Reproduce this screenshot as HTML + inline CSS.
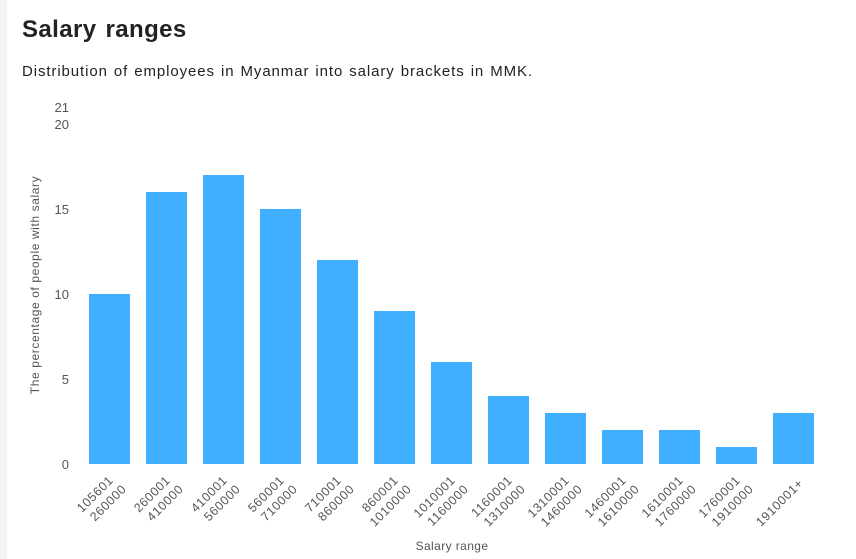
<!DOCTYPE html>
<html><head><meta charset="utf-8"><style>
body{margin:0;background:#fff;}
svg{display:block;font-family:"Liberation Sans",sans-serif;}
</style></head><body>
<svg width="856" height="559" viewBox="0 0 856 559" xmlns="http://www.w3.org/2000/svg">
<rect x="0" y="0" width="856" height="559" fill="#fff"/>
<rect x="0" y="0" width="7" height="559" fill="#f3f3f3"/>
<text x="22" y="37" font-size="24" fill="#222" font-weight="bold" letter-spacing="0.4" word-spacing="2">Salary ranges</text>
<text x="22" y="76" font-size="15" fill="#222" letter-spacing="0.9" word-spacing="1">Distribution of employees in Myanmar into salary brackets in MMK.</text>
<g font-size="13" fill="#555" text-anchor="end">
<text x="69" y="112">21</text>
<text x="69" y="129">20</text>
<text x="69" y="214">15</text>
<text x="69" y="299">10</text>
<text x="69" y="384">5</text>
<text x="69" y="469">0</text>
</g>
<text transform="translate(39,285) rotate(-90)" font-size="12" fill="#555" text-anchor="middle" letter-spacing="0.6">The percentage of people with salary</text>
<g fill="#40afff">
<rect x="89" y="294" width="41" height="170"/>
<rect x="146" y="192" width="41" height="272"/>
<rect x="203" y="175" width="41" height="289"/>
<rect x="260" y="209" width="41" height="255"/>
<rect x="317" y="260" width="41" height="204"/>
<rect x="374" y="311" width="41" height="153"/>
<rect x="431" y="362" width="41" height="102"/>
<rect x="488" y="396" width="41" height="68"/>
<rect x="545" y="413" width="41" height="51"/>
<rect x="602" y="430" width="41" height="34"/>
<rect x="659" y="430" width="41" height="34"/>
<rect x="716" y="447" width="41" height="17"/>
<rect x="773" y="413" width="41" height="51"/>
</g>
<g font-size="12.5" fill="#555" text-anchor="end" letter-spacing="0.6">
<text transform="translate(114,481) rotate(-45)"><tspan x="0" dy="0">105601</tspan><tspan x="3" dy="15.5">260000</tspan></text>
<text transform="translate(171,481) rotate(-45)"><tspan x="0" dy="0">260001</tspan><tspan x="3" dy="15.5">410000</tspan></text>
<text transform="translate(228,481) rotate(-45)"><tspan x="0" dy="0">410001</tspan><tspan x="3" dy="15.5">560000</tspan></text>
<text transform="translate(285,481) rotate(-45)"><tspan x="0" dy="0">560001</tspan><tspan x="3" dy="15.5">710000</tspan></text>
<text transform="translate(342,481) rotate(-45)"><tspan x="0" dy="0">710001</tspan><tspan x="3" dy="15.5">860000</tspan></text>
<text transform="translate(399,481) rotate(-45)"><tspan x="0" dy="0">860001</tspan><tspan x="3" dy="15.5">1010000</tspan></text>
<text transform="translate(456,481) rotate(-45)"><tspan x="0" dy="0">1010001</tspan><tspan x="3" dy="15.5">1160000</tspan></text>
<text transform="translate(513,481) rotate(-45)"><tspan x="0" dy="0">1160001</tspan><tspan x="3" dy="15.5">1310000</tspan></text>
<text transform="translate(570,481) rotate(-45)"><tspan x="0" dy="0">1310001</tspan><tspan x="3" dy="15.5">1460000</tspan></text>
<text transform="translate(627,481) rotate(-45)"><tspan x="0" dy="0">1460001</tspan><tspan x="3" dy="15.5">1610000</tspan></text>
<text transform="translate(684,481) rotate(-45)"><tspan x="0" dy="0">1610001</tspan><tspan x="3" dy="15.5">1760000</tspan></text>
<text transform="translate(741,481) rotate(-45)"><tspan x="0" dy="0">1760001</tspan><tspan x="3" dy="15.5">1910000</tspan></text>
<text transform="translate(804,484) rotate(-45)">1910001+</text>
</g>
<text x="452" y="550" font-size="12" fill="#555" text-anchor="middle" letter-spacing="0.4">Salary range</text>
</svg>
</body></html>
